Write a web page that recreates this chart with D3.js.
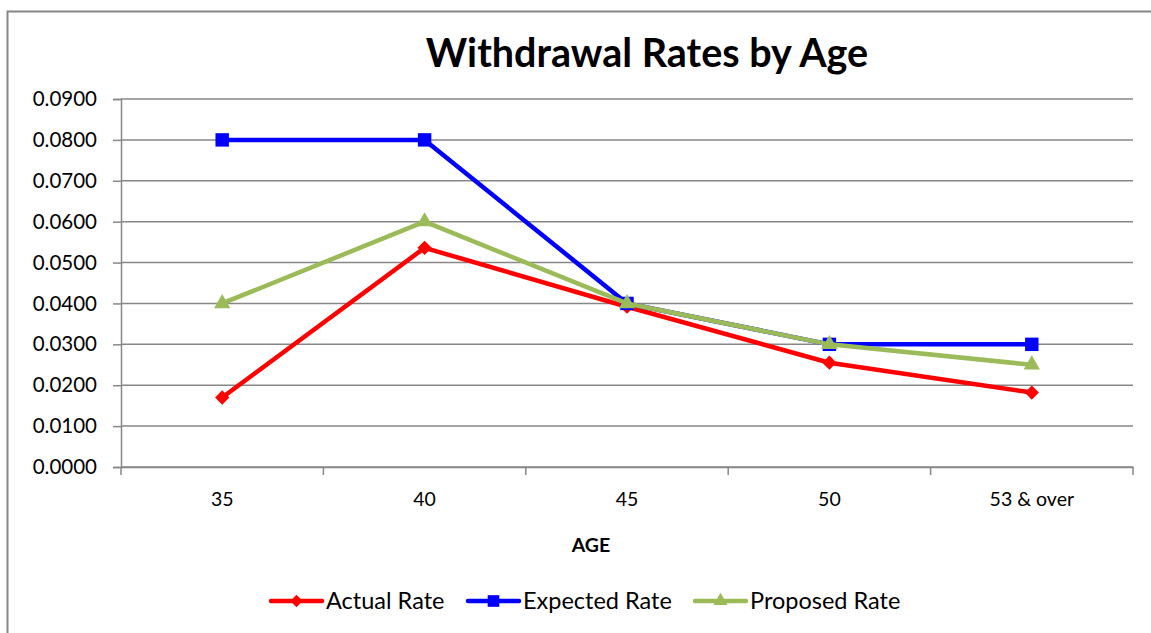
<!DOCTYPE html>
<html>
<head>
<meta charset="utf-8">
<script src="https://cdn.jsdelivr.net/npm/d3@7"></script>
<style>
  html, body { margin: 0; padding: 0; background: #fff; }
  svg { display: block; font-family: Lato, "Open Sans", sans-serif; }
</style>
</head>
<body>
<svg id="chart" width="1151" height="633"></svg>
<script>
// Age groups along the x axis
const ages = ["35", "40", "45", "50", "53 & over"];

// Withdrawal rates per age group
const actualRate   = [0.0170, 0.0536, 0.0392, 0.0255, 0.0182];
const expectedRate = [0.0800, 0.0800, 0.0400, 0.0300, 0.0300];
const proposedRate = [0.0400, 0.0600, 0.0400, 0.0300, 0.0250];

// Y axis ticks
const yTicks = [0, 0.01, 0.02, 0.03, 0.04, 0.05, 0.06, 0.07, 0.08, 0.09];

const seriesNames = ["Actual Rate", "Expected Rate", "Proposed Rate"];

const series = [
  { name: seriesNames[0], values: actualRate,   color: "#ff0000", symbol: "diamond" },
  { name: seriesNames[1], values: expectedRate, color: "#0000ff", symbol: "square" },
  { name: seriesNames[2], values: proposedRate, color: "#9bbb59", symbol: "triangle" }
];

const svg = d3.select("#chart");
const grey = "#878787";

// Outer chart frame
svg.append("rect")
  .attr("x", 7.5).attr("y", 11.5)
  .attr("width", 1200).attr("height", 700)
  .attr("fill", "none").attr("stroke", grey).attr("stroke-width", 2);

const plot = { left: 121, right: 1133, top: 99, bottom: 467 };

const x = d3.scaleBand().domain(ages).range([plot.left, plot.right]);
const y = d3.scaleLinear().domain([0, 0.09]).range([plot.bottom, plot.top]);

// Horizontal gridlines
svg.append("g")
  .selectAll("line")
  .data(yTicks)
  .join("line")
  .attr("x1", plot.left).attr("x2", plot.right)
  .attr("y1", d => y(d)).attr("y2", d => y(d))
  .attr("stroke", grey).attr("stroke-width", 1.5);

// Y axis
const yAxis = svg.append("g")
  .attr("transform", `translate(${plot.left},0)`)
  .call(d3.axisLeft(y).tickValues(yTicks).tickFormat(d3.format(".4f")).tickSize(8).tickPadding(16));
yAxis.select(".domain").attr("stroke", grey).attr("stroke-width", 1.5);
yAxis.selectAll(".tick line").attr("stroke", grey).attr("stroke-width", 1.5);
yAxis.selectAll(".tick text")
  .attr("fill", "#000").style("font-size", "20.5px").style("font-family", "Lato, sans-serif");

// X axis with ticks between categories
const xAxis = svg.append("g")
  .attr("transform", `translate(0,${plot.bottom})`)
  .call(d3.axisBottom(x).tickSize(0).tickPadding(25));
xAxis.select(".domain").attr("stroke", grey).attr("stroke-width", 1.5);
xAxis.selectAll(".tick text")
  .attr("fill", "#000").style("font-size", "19.5px").style("font-family", "Lato, sans-serif");

const boundaries = ages.map(a => x(a)).concat([plot.right]);
svg.append("g")
  .selectAll("line")
  .data(boundaries)
  .join("line")
  .attr("x1", d => d).attr("x2", d => d)
  .attr("y1", plot.bottom).attr("y2", plot.bottom + 8)
  .attr("stroke", grey).attr("stroke-width", 1.5);

// Titles
svg.append("text")
  .attr("x", 647).attr("y", 67)
  .attr("text-anchor", "middle")
  .style("font-size", "39.5px").style("font-weight", "bold")
  .text("Withdrawal Rates by Age");

svg.append("text")
  .attr("x", 591).attr("y", 552)
  .attr("text-anchor", "middle")
  .style("font-size", "19.5px").style("font-weight", "bold")
  .text("AGE");

// Marker shapes
const symbolType = {
  diamond: d3.symbolDiamond2,
  square: d3.symbolSquare2,
  triangle: d3.symbolTriangle2
};
function symbolPath(kind, size) {
  return d3.symbol().type(symbolType[kind]).size(size)();
}
const markerSize = { diamond: 130, square: 230, triangle: 190 };

const line = d3.line()
  .x((d, i) => x(ages[i]) + x.bandwidth() / 2)
  .y(d => y(d));

series.forEach(s => {
  const g = svg.append("g");
  g.append("path")
    .attr("d", line(s.values))
    .attr("fill", "none")
    .attr("stroke", s.color)
    .attr("stroke-width", 4.5)
    .attr("stroke-linejoin", "round");
  g.selectAll("path.marker")
    .data(s.values)
    .join("path")
    .attr("class", "marker")
    .attr("transform", (d, i) => `translate(${x(ages[i]) + x.bandwidth() / 2},${y(d)})`)
    .attr("d", symbolPath(s.symbol, markerSize[s.symbol]))
    .attr("fill", s.color);
});

// Legend
const legendItems = [
  { s: series[0], x0: 271 },
  { s: series[1], x0: 468 },
  { s: series[2], x0: 695 }
];
const legendY = 601;
legendItems.forEach(item => {
  const g = svg.append("g");
  g.append("line")
    .attr("x1", item.x0).attr("x2", item.x0 + 51)
    .attr("y1", legendY).attr("y2", legendY)
    .attr("stroke", item.s.color).attr("stroke-width", 4.5).attr("stroke-linecap", "round");
  g.append("path")
    .attr("transform", `translate(${item.x0 + 25.5},${legendY})`)
    .attr("d", symbolPath(item.s.symbol, markerSize[item.s.symbol] * 0.75))
    .attr("fill", item.s.color);
  g.append("text")
    .attr("x", item.x0 + 55).attr("y", legendY)
    .attr("dy", "0.35em")
    .style("font-size", "23.5px")
    .text(item.s.name);
});
</script>
</body>
</html>
